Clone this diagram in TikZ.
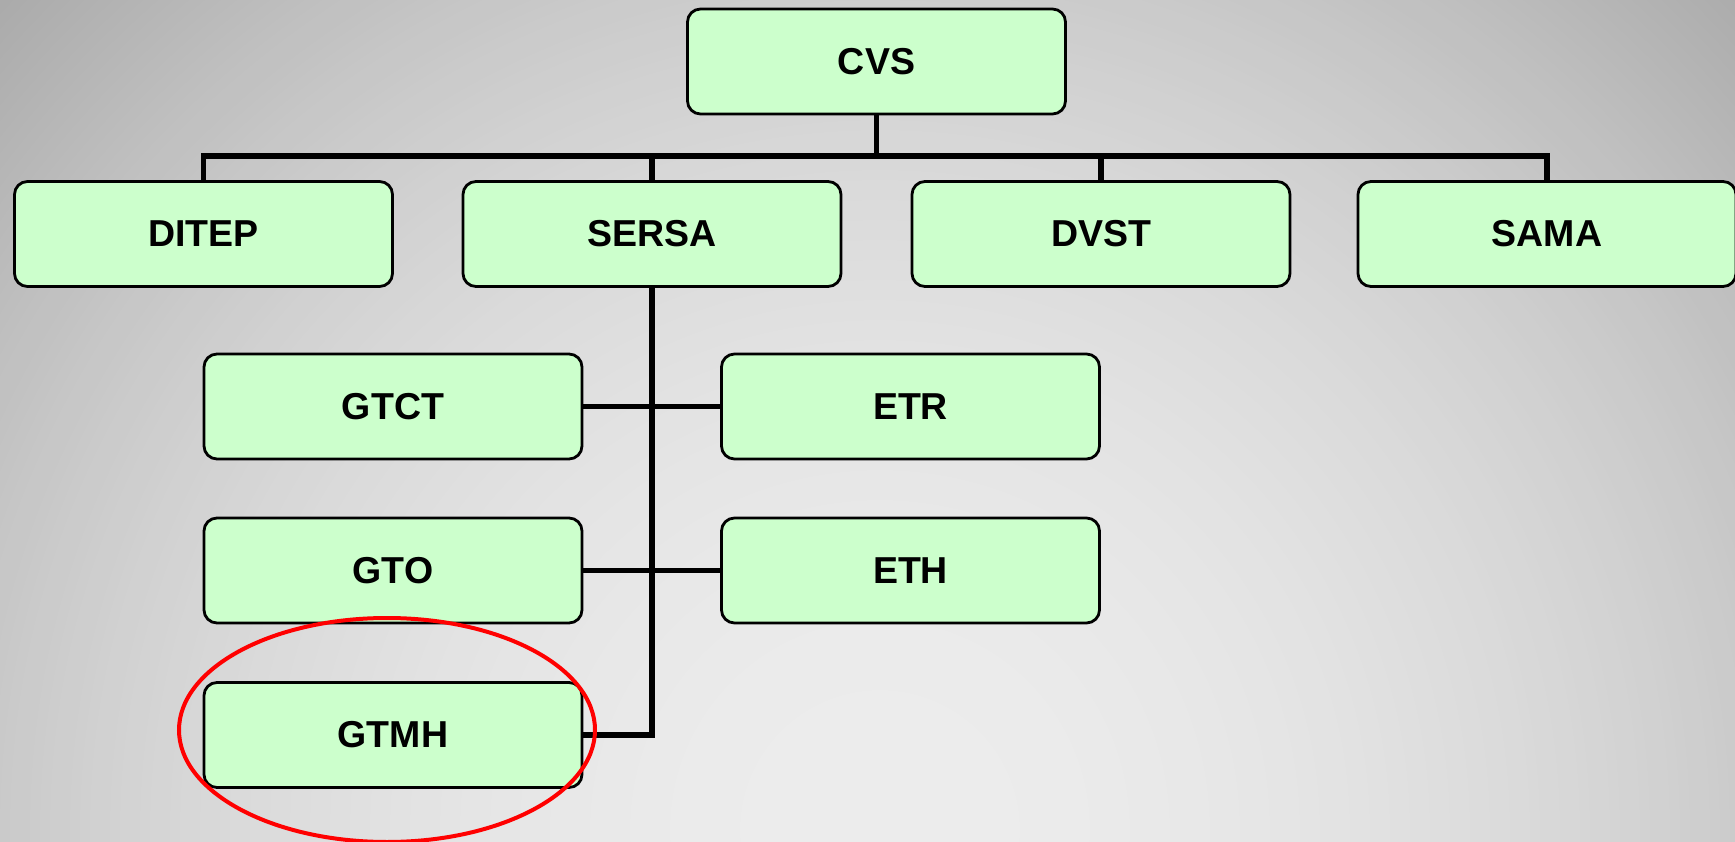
\documentclass[tikz,border=0pt]{standalone}
\usepackage{fontspec}
\setmainfont{Liberation Sans}
\definecolor{boxfill}{HTML}{CCFFCC}
\tikzset{
  orgbox/.style={draw=black, line width=2.8pt, fill=boxfill, rounded corners=13pt,
    minimum width=378pt, minimum height=105pt, inner sep=0pt,
    font=\fontsize{37.5}{42}\selectfont\bfseries},
  link/.style={draw=black, line width=5.5pt},
  mark ring/.style={draw=red, line width=4pt}
}
\begin{document}
\begin{tikzpicture}[x=1pt,y=-1pt]
\useasboundingbox (0,0) rectangle (1735,842);
\begin{scope}
\clip (0,0) rectangle (1735,842);
\foreach \r in {1300,1290,...,0}{
  \pgfmathtruncatemacro{\lv}{max(150,237-70*(\r/1250)^2)}
  \fill[fill={rgb,255:red,\lv;green,\lv;blue,\lv}] (880,830) circle (\r pt);
}
\end{scope}

\node[orgbox] (CVS) at (876.5,61.5) {CVS};
\node[orgbox] (DITEP) at (203.5,234) {DITEP};
\node[orgbox] (SERSA) at (652,234) {SERSA};
\node[orgbox] (DVST) at (1101,234) {DVST};
\node[orgbox] (SAMA) at (1547,234) {SAMA};
\node[orgbox] (GTCT) at (393,406.5) {GTCT};
\node[orgbox] (ETR) at (910.5,406.5) {ETR};
\node[orgbox] (GTO) at (393,570.5) {GTO};
\node[orgbox] (ETH) at (910.5,570.5) {ETH};
\node[orgbox] (GTMH) at (393,735) {GTMH};

\coordinate (bus) at (876.5,156);
\draw[link] (CVS.south) -- (bus);
\draw[link] (DITEP.north) |- (bus) -| (SAMA.north);
\draw[link] (SERSA.north) -- (SERSA.north |- bus);
\draw[link] (DVST.north) -- (DVST.north |- bus);
\draw[link] (SERSA.south) |- (GTMH.east);
\draw[link] (GTCT.east) -- (ETR.west);
\draw[link] (GTO.east) -- (ETH.west);

\draw[mark ring] (387,730) ellipse [x radius=208pt, y radius=112pt];
\end{tikzpicture}
\end{document}
